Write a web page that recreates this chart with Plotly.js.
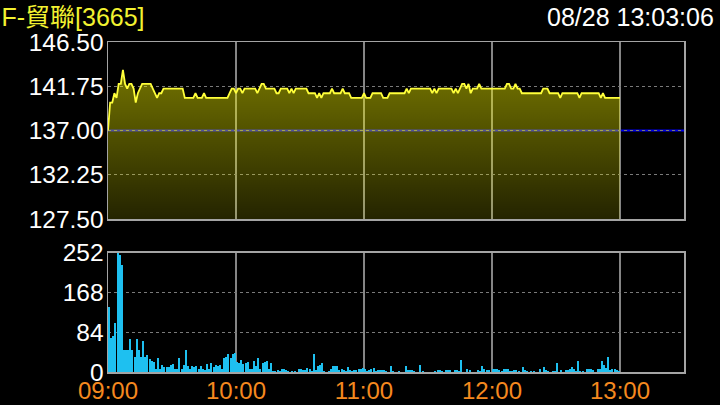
<!DOCTYPE html>
<html>
<head>
<meta charset="utf-8">
<script src="https://cdn.plot.ly/plotly-3.0.1.min.js"></script>
<style>
  html, body { margin: 0; padding: 0; background: #000; }
  #chart { width: 720px; height: 405px; }
</style>
</head>
<body>
<div id="chart"></div>
<script>
// ---- data ----
const stockTitle = 'F-貿聯[3665]';
const timestamp = '08/28 13:03:06';
const refPrice = 137.0;
const priceTicks = [127.5, 132.25, 137.0, 141.75, 146.5];
const volumeTicks = [0, 84, 168, 252];
const timeTickMinutes = [0, 60, 120, 180, 240];
const timeTickLabels = ['09:00', '10:00', '11:00', '12:00', '13:00'];

// one value per minute from 09:00 to 13:00
const prices = [
  137.0, 140.0, 140.0, 141.0, 140.5, 142.0, 142.0, 143.5, 142.0, 141.5,
  142.0, 142.0, 141.5, 140.0, 141.0, 141.5, 142.0, 142.0, 142.0, 142.0,
  142.0, 141.5, 141.0, 140.5, 141.0, 141.0, 141.5, 141.5, 141.5, 141.5,
  141.5, 141.5, 141.5, 141.5, 141.5, 141.5, 140.5, 140.5, 140.5, 140.5,
  140.5, 141.0, 140.5, 140.5, 140.5, 141.0, 140.5, 140.5, 140.5, 140.5,
  140.5, 140.5, 140.5, 140.5, 140.5, 140.5, 140.5, 141.0, 141.5, 141.5,
  141.0, 141.5, 141.5, 141.0, 141.5, 141.5, 141.5, 141.5, 141.5, 141.5,
  141.0, 141.5, 142.0, 142.0, 141.5, 141.5, 141.5, 141.5, 141.5, 141.0,
  141.0, 141.5, 141.5, 141.5, 141.5, 141.0, 141.5, 141.0, 141.5, 141.5,
  141.5, 141.5, 141.5, 141.5, 141.0, 141.0, 141.0, 141.0, 140.5, 141.0,
  140.5, 141.0, 141.0, 141.0, 141.0, 141.5, 141.0, 141.0, 141.0, 141.0,
  141.5, 141.0, 141.0, 141.0, 140.5, 140.5, 140.5, 140.5, 140.5, 140.5,
  141.0, 140.5, 140.5, 140.5, 141.0, 141.0, 141.0, 141.0, 141.0, 140.5,
  140.5, 140.5, 141.0, 141.0, 141.0, 141.0, 141.0, 141.0, 141.0, 141.0,
  141.5, 141.0, 141.5, 141.5, 141.5, 141.5, 141.5, 141.5, 141.5, 141.5,
  141.5, 141.5, 141.0, 141.5, 141.0, 141.5, 141.5, 141.5, 141.5, 141.5,
  141.5, 141.5, 141.0, 141.5, 141.0, 141.5, 142.0, 142.0, 141.5, 142.0,
  141.0, 141.5, 141.5, 141.5, 142.0, 141.5, 141.5, 141.5, 141.5, 141.5,
  141.5, 141.5, 141.5, 141.5, 141.5, 141.5, 141.5, 142.0, 142.0, 141.5,
  141.5, 142.0, 141.5, 141.5, 141.0, 141.0, 141.0, 141.0, 141.0, 141.0,
  141.0, 141.0, 141.0, 141.0, 141.5, 141.5, 141.5, 141.0, 141.0, 141.0,
  141.0, 141.0, 140.5, 141.0, 141.0, 141.0, 141.0, 141.0, 141.0, 141.0,
  141.0, 140.5, 141.0, 141.0, 141.0, 141.0, 141.0, 141.0, 141.0, 141.0,
  141.0, 140.5, 141.0, 140.5, 140.5, 140.5, 140.5, 140.5, 140.5, 140.5,
  140.5
];

const volumes = [
  138, 71, 75, 103, 252, 248, 226, 46, 46, 46,
  69, 46, 32, 69, 46, 32, 65, 32, 35, 28,
  24, 21, 7, 29, 7, 14, 11, 10, 11, 14,
  16, 7, 7, 29, 7, 14, 46, 12, 7, 12,
  10, 12, 7, 12, 7, 5, 16, 7, 18, 11,
  14, 12, 14, 7, 29, 32, 39, 29, 39, 41,
  21, 18, 25, 16, 18, 21, 7, 7, 23, 12,
  29, 7, 20, 21, 23, 7, 20, 2, 2, 4,
  3, 6, 6, 5, 2, 1, 2, 2, 1, 7,
  7, 4, 5, 9, 6, 3, 38, 5, 13, 14,
  18, 2, 1, 3, 7, 12, 13, 13, 5, 6,
  4, 3, 11, 4, 2, 5, 5, 6, 6, 8,
  7, 2, 5, 6, 9, 2, 4, 4, 5, 5,
  2, 1, 12, 2, 1, 1, 2, 1, 1, 12,
  4, 5, 5, 2, 1, 1, 14, 2, 1, 1,
  1, 1, 1, 3, 4, 5, 2, 1, 4, 4,
  4, 1, 4, 4, 2, 25, 1, 1, 6, 4,
  1, 1, 1, 4, 2, 13, 6, 4, 4, 1,
  6, 6, 6, 4, 2, 7, 7, 6, 3, 2,
  4, 4, 2, 1, 11, 4, 2, 1, 2, 2,
  1, 1, 6, 1, 11, 4, 2, 1, 2, 2,
  20, 1, 4, 1, 4, 5, 6, 11, 7, 2,
  23, 2, 2, 1, 6, 6, 6, 4, 1, 7,
  7, 23, 14, 9, 31, 4, 7, 6, 4, 2,
  1
];

const minutes = prices.map((_, i) => i);
const sessionEnd = 270; // 13:30 axis end

const FONT = 'Liberation Sans, Arial, Helvetica, "Noto Sans CJK TC", sans-serif';
const gridCol = '#858585';
const frameCol = '#a4a4a4';

const traces = [
  {
    type: 'scatter', mode: 'lines',
    x: minutes, y: prices,
    xaxis: 'x', yaxis: 'y',
    line: { color: '#ffff3a', width: 1.8, shape: 'linear' },
    fill: 'tozeroy',
    fillgradient: {
      type: 'vertical',
      start: 127.5, stop: 143.5,
      colorscale: [[0, 'rgba(255,255,0,0.14)'], [1, 'rgba(255,255,0,0.45)']]
    },
    hoverinfo: 'skip'
  },
  {
    type: 'bar',
    x: minutes, y: volumes,
    xaxis: 'x2', yaxis: 'y2',
    width: 0.94, offset: 0,
    marker: { color: '#1ec0f0', line: { width: 0 } },
    hoverinfo: 'skip'
  }
];

const layout = {
  width: 720, height: 405,
  paper_bgcolor: '#000', plot_bgcolor: '#000',
  margin: { l: 108, r: 35.5, t: 42, b: 33, pad: 0 },
  showlegend: false,
  font: { family: FONT, color: '#ffffff', size: 24 },
  title: {
    text: stockTitle,
    font: { family: FONT, size: 25, color: '#f2f230' },
    xref: 'container', yref: 'container',
    x: 0.002, xanchor: 'left',
    y: 1 - 17 / 405, yanchor: 'middle'
  },
  annotations: [{
    text: timestamp,
    xref: 'paper', yref: 'paper',
    x: (717 - 108) / 576.5, xanchor: 'right',
    y: (372 - 17) / 330, yanchor: 'middle',
    showarrow: false,
    font: { family: FONT, size: 25, color: '#ffffff' }
  }],
  shapes: [{
    type: 'line', xref: 'x domain', yref: 'y',
    x0: 0, x1: 1, y0: refPrice, y1: refPrice,
    line: { color: '#0000f0', width: 2 },
    layer: 'below'
  }],
  xaxis: {
    domain: [0, 1], anchor: 'y', range: [0, sessionEnd],
    tickvals: timeTickMinutes, showticklabels: false, ticks: '',
    showgrid: true, gridcolor: gridCol, gridwidth: 1.5,
    showline: true, mirror: true, linecolor: frameCol, linewidth: 1.5,
    zeroline: false, fixedrange: true
  },
  yaxis: {
    domain: [(372 - 219) / 330, 1], anchor: 'x', range: [127.5, 146.5],
    tickvals: priceTicks, ticktext: priceTicks.map(v => v.toFixed(2)),
    ticks: '', tickfont: { family: FONT, size: 24.5, color: '#ffffff' },
    ticklabelstandoff: -2,
    showgrid: true, gridcolor: '#7a7a7a', gridwidth: 1, griddash: 'dot',
    showline: true, mirror: true, linecolor: frameCol, linewidth: 1.5,
    zeroline: false, fixedrange: true
  },
  xaxis2: {
    domain: [0, 1], anchor: 'y2', range: [0, sessionEnd],
    tickvals: timeTickMinutes, ticktext: timeTickLabels, ticks: '',
    tickfont: { family: FONT, size: 24, color: '#f5891f' },
    ticklabelstandoff: -3,
    showgrid: true, gridcolor: gridCol, gridwidth: 1.5,
    showline: true, mirror: true, linecolor: frameCol, linewidth: 1.5,
    zeroline: false, fixedrange: true
  },
  yaxis2: {
    domain: [0, (372 - 252.6) / 330], anchor: 'x2', range: [0, 252],
    tickvals: volumeTicks, ticktext: volumeTicks.map(String),
    ticks: '', tickfont: { family: FONT, size: 24.5, color: '#ffffff' },
    ticklabelstandoff: -2,
    showgrid: true, gridcolor: '#7a7a7a', gridwidth: 1, griddash: 'dot',
    showline: true, mirror: true, linecolor: frameCol, linewidth: 1.5,
    zeroline: false, fixedrange: true
  },
  bargap: 0
};

Plotly.newPlot('chart', traces, layout, { displayModeBar: false, staticPlot: true });
</script>
</body>
</html>
